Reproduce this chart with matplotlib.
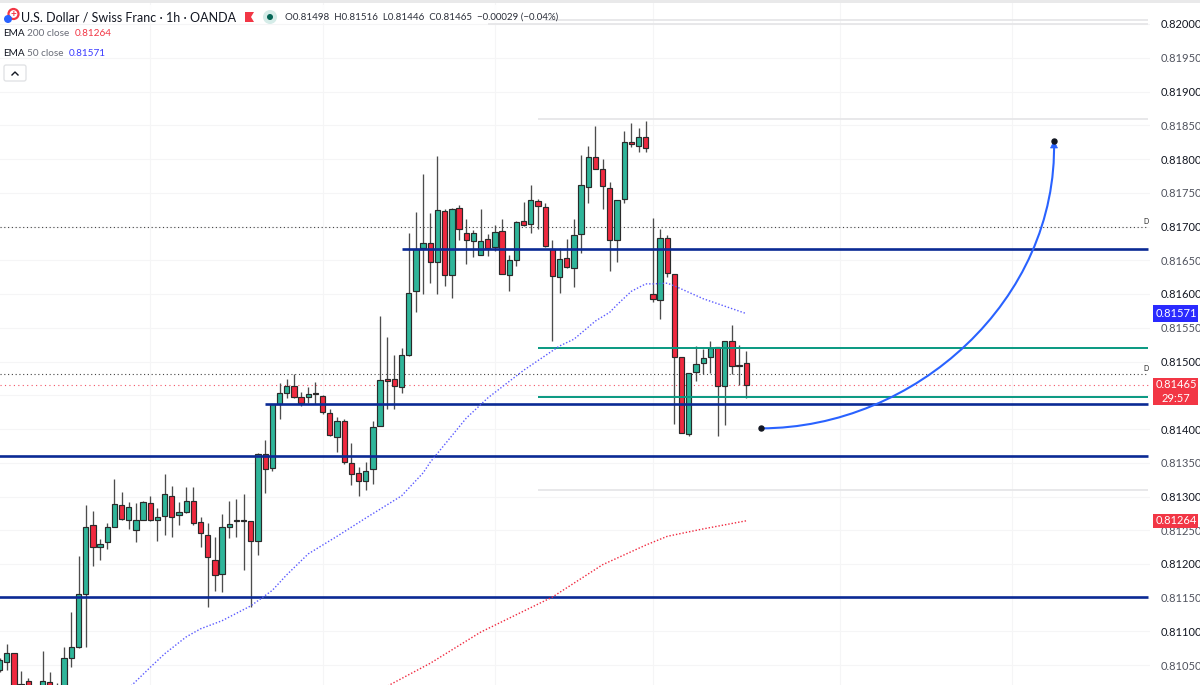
import matplotlib
matplotlib.use("Agg")
import matplotlib.pyplot as plt
from matplotlib.patches import Circle, FancyBboxPatch, PathPatch, Polygon, Rectangle
from matplotlib.path import Path
import numpy as np

plt.rcParams["font.family"] = ["Lato", "DejaVu Sans"]

# first visible bar sits half off the left edge, so numbering starts at -1
FIRST_BAR = -1

opens = [
    0.81043, 0.81055, 0.81068, 0.81022, 0.81027, 0.80999, 0.81006, 0.81025, 0.81013, 0.81006,
    0.81061, 0.81077, 0.81156, 0.81258, 0.81225, 0.81233, 0.81255, 0.81287, 0.81265, 0.81250,
    0.81265, 0.81290, 0.81265, 0.81271, 0.81301, 0.81273, 0.81277, 0.81293, 0.81262, 0.81243,
    0.81206, 0.81185, 0.81255, 0.81264, 0.81264, 0.81264, 0.81234, 0.81363, 0.81342, 0.81437,
    0.81453, 0.81464, 0.81447, 0.81447, 0.81453, 0.81449, 0.81424, 0.81388, 0.81412, 0.81350,
    0.81335, 0.81323, 0.81341, 0.81404, 0.81474, 0.81474, 0.81462, 0.81510, 0.81604, 0.81668,
    0.81676, 0.81647, 0.81723, 0.81628, 0.81727, 0.81690, 0.81679, 0.81658, 0.81681, 0.81670,
    0.81693, 0.81628, 0.81650, 0.81708, 0.81704, 0.81738, 0.81729, 0.81667, 0.81625, 0.81653,
    0.81639, 0.81689, 0.81759, 0.81803, 0.81785, 0.81757, 0.81680, 0.81741, 0.81825, 0.81819,
    0.81833, 0.81600, 0.81591, 0.81683, 0.81630, 0.81507, 0.81393, 0.81484, 0.81498, 0.81507,
    0.81521, 0.81464, 0.81530, 0.81495, 0.81498,
]
highs = [
    0.81061, 0.81081, 0.81068, 0.81041, 0.81031, 0.81016, 0.81071, 0.81040, 0.81024, 0.81077,
    0.81129, 0.81212, 0.81287, 0.81279, 0.81237, 0.81261, 0.81326, 0.81307, 0.81292, 0.81290,
    0.81293, 0.81301, 0.81283, 0.81333, 0.81316, 0.81292, 0.81314, 0.81314, 0.81270, 0.81261,
    0.81240, 0.81274, 0.81293, 0.81296, 0.81304, 0.81264, 0.81364, 0.81384, 0.81437, 0.81468,
    0.81474, 0.81481, 0.81455, 0.81462, 0.81470, 0.81450, 0.81430, 0.81418, 0.81415, 0.81379,
    0.81344, 0.81351, 0.81412, 0.81567, 0.81536, 0.81510, 0.81520, 0.81690, 0.81721, 0.81778,
    0.81720, 0.81804, 0.81726, 0.81727, 0.81732, 0.81711, 0.81695, 0.81726, 0.81689, 0.81702,
    0.81711, 0.81658, 0.81708, 0.81736, 0.81761, 0.81741, 0.81735, 0.81680, 0.81668, 0.81681,
    0.81711, 0.81806, 0.81819, 0.81849, 0.81800, 0.81766, 0.81739, 0.81841, 0.81853, 0.81846,
    0.81856, 0.81713, 0.81696, 0.81687, 0.81630, 0.81507, 0.81483, 0.81523, 0.81519, 0.81530,
    0.81521, 0.81530, 0.81554, 0.81524, 0.81516,
]
lows = [
    0.81040, 0.81043, 0.81010, 0.81010, 0.80999, 0.80991, 0.80999, 0.80999, 0.80991, 0.80999,
    0.81047, 0.81076, 0.81077, 0.81197, 0.81206, 0.81222, 0.81255, 0.81265, 0.81252, 0.81233,
    0.81265, 0.81264, 0.81234, 0.81243, 0.81240, 0.81258, 0.81276, 0.81258, 0.81225, 0.81136,
    0.81160, 0.81159, 0.81239, 0.81240, 0.81191, 0.81136, 0.81213, 0.81305, 0.81338, 0.81415,
    0.81446, 0.81446, 0.81434, 0.81439, 0.81437, 0.81422, 0.81390, 0.81366, 0.81348, 0.81317,
    0.81301, 0.81310, 0.81319, 0.81404, 0.81430, 0.81430, 0.81453, 0.81508, 0.81573, 0.81600,
    0.81616, 0.81600, 0.81612, 0.81594, 0.81680, 0.81644, 0.81655, 0.81658, 0.81656, 0.81664,
    0.81630, 0.81604, 0.81641, 0.81701, 0.81690, 0.81696, 0.81670, 0.81530, 0.81601, 0.81639,
    0.81610, 0.81661, 0.81735, 0.81785, 0.81726, 0.81634, 0.81647, 0.81735, 0.81818, 0.81810,
    0.81810, 0.81588, 0.81563, 0.81625, 0.81407, 0.81394, 0.81390, 0.81471, 0.81481, 0.81483,
    0.81390, 0.81406, 0.81481, 0.81465, 0.81446,
]
closes = [
    0.81058, 0.81068, 0.81013, 0.81021, 0.81006, 0.81013, 0.81027, 0.81006, 0.80999, 0.81061,
    0.81077, 0.81156, 0.81255, 0.81225, 0.81230, 0.81255, 0.81289, 0.81267, 0.81284, 0.81265,
    0.81292, 0.81265, 0.81270, 0.81304, 0.81270, 0.81277, 0.81293, 0.81261, 0.81246, 0.81210,
    0.81184, 0.81255, 0.81259, 0.81264, 0.81264, 0.81234, 0.81363, 0.81341, 0.81437, 0.81453,
    0.81464, 0.81447, 0.81439, 0.81452, 0.81452, 0.81425, 0.81391, 0.81412, 0.81351, 0.81333,
    0.81323, 0.81338, 0.81403, 0.81473, 0.81471, 0.81464, 0.81510, 0.81601, 0.81667, 0.81676,
    0.81647, 0.81724, 0.81628, 0.81726, 0.81696, 0.81680, 0.81690, 0.81679, 0.81668, 0.81692,
    0.81630, 0.81650, 0.81707, 0.81702, 0.81739, 0.81730, 0.81671, 0.81627, 0.81652, 0.81640,
    0.81687, 0.81761, 0.81803, 0.81785, 0.81760, 0.81680, 0.81739, 0.81825, 0.81822, 0.81833,
    0.81816, 0.81593, 0.81683, 0.81631, 0.81507, 0.81394, 0.81483, 0.81496, 0.81505, 0.81520,
    0.81464, 0.81530, 0.81493, 0.81493, 0.81465,
]

ema50_bars = [17, 20, 22, 25, 27, 30, 34, 37, 39, 42, 46, 50, 55, 58, 59, 64, 67, 72, 77, 79,
              82, 84, 85, 87, 89, 90, 92, 93, 97, 100, 103]
ema50_vals = [0.81016, 0.81047, 0.81067, 0.81092, 0.81104, 0.81116, 0.81138, 0.81161, 0.81184,
              0.81215, 0.81241, 0.81268, 0.81301, 0.81335, 0.81351, 0.81416, 0.81446, 0.81487,
              0.81523, 0.81533, 0.81560, 0.81573, 0.81584, 0.81604, 0.81615, 0.81615, 0.81616,
              0.81612, 0.81593, 0.81582, 0.81571]
ema200_bars = [53, 59, 66, 76, 83, 89, 92, 97, 103]
ema200_vals = [0.81019, 0.81053, 0.81099, 0.81151, 0.81199, 0.81228, 0.81241, 0.81252, 0.81264]

# (price, first bar) drawn out to the right edge of the pane
blue_levels = [(0.81667, 55), (0.81437, 36), (0.81360, -2), (0.81151, -2)]
green_levels = [(0.81520, 74), (0.81447, 74)]
grey_levels = [(0.81859, 74), (0.81310, 74), (0.82006, 67), (0.82000, 67)]
dotted_levels = [0.81699, 0.81481]
last_price = 0.81465

tick_prices = [0.82, 0.8195, 0.819, 0.8185, 0.818, 0.8175, 0.817, 0.8165, 0.816, 0.8155, 0.815,
               0.8145, 0.814, 0.8135, 0.813, 0.8125, 0.812, 0.8115, 0.811, 0.8105]
# 0.81450 is hidden behind the live price tag in the screenshot
tick_labels = ["0.82000", "0.81950", "0.81900", "0.81850", "0.81800", "0.81750", "0.81700",
               "0.81650", "0.81600", "0.81550", "0.81500", "", "0.81400", "0.81350", "0.81300",
               "0.81250", "0.81200", "0.81150", "0.81100", "0.81050"]
vgrid_bars = [20, 44, 68, 90, 116, 140]

GREEN = "#2fb59a"
RED = "#f0293f"
NAVY = "#0b2a94"
TEAL = "#089981"
ARROW = "#2962ff"


def bar_x(px):
    return (px - 6.7) / 7.18


def price_y(py):
    return 0.82 - (py - 24) / 67500


fig = plt.figure(figsize=(12, 6.85), dpi=100, facecolor="white")
ax = fig.add_axes([0, 0, 1150 / 1200, 1])
ax.set_xlim(bar_x(0), bar_x(1150))
ax.set_ylim(price_y(685), price_y(0))
for s in ax.spines.values():
    s.set_visible(False)
ax.set_xticks([])
ax.yaxis.tick_right()
ax.set_yticks(tick_prices)
ax.set_yticklabels(tick_labels, fontsize=8)
ax.tick_params(axis="y", length=0, pad=7.5)
for i, lab in enumerate(ax.get_yticklabels()):
    lab.set_color("#131722" if i % 2 == 0 else "#50535e")
for p in tick_prices:
    ax.axhline(p, color="#f5f5f6", lw=0.8, zorder=0)
for b in vgrid_bars:
    ax.axvline(b, color="#f5f5f6", lw=0.8, zorder=0)

# levels
right = bar_x(1148)
for p, start in grey_levels:
    ax.hlines(p, start, right, color="#e6e6e8", lw=1.3, zorder=1)
for p in dotted_levels:
    ax.hlines(p, bar_x(0), right, color="#444444", lw=0.8, ls=(0, (1, 2.4)), zorder=1)
    ax.text(bar_x(1146), p + 0.00009, "D", fontsize=5, ha="center", va="center", color="#222222")
ax.hlines(last_price, bar_x(0), right, color="#f0293f", lw=0.8, ls=(0, (1, 3)), alpha=0.8, zorder=1)

# candles
bars = np.arange(len(opens)) + FIRST_BAR
o = np.array(opens)
c = np.array(closes)
ax.vlines(bars, lows, highs, color="#4d4d4d", lw=0.95, zorder=3)
up = c >= o
colors = np.where(up, GREEN, RED)
bottoms = np.minimum(o, c)
heights = np.maximum(np.abs(c - o), 0.000015)
ax.bar(bars, heights, bottom=bottoms, width=0.74, color=colors, edgecolor="#2a2a2a", lw=0.85, zorder=4)

for p, start in blue_levels:
    ax.hlines(p, start, right, color=NAVY, lw=1.9, zorder=5)
for p, start in green_levels:
    ax.hlines(p, start, right, color=TEAL, lw=1.4, zorder=5)

# EMAs
ax.plot(ema50_bars, ema50_vals, color="#5a5aff", lw=1.0, ls=(0, (1, 1.4)), zorder=6)
ax.plot(ema200_bars, ema200_vals, color="#f0293f", lw=1.0, ls=(0, (1, 1.4)), zorder=6)

# curved arrow drawing
p0 = (bar_x(761), 0.81401)
c1 = (bar_x(915), 0.81401)
c2 = (bar_x(1058), 0.81591)
p3 = (bar_x(1054), 0.81827)
curve = Path([p0, c1, c2, p3], [Path.MOVETO, Path.CURVE4, Path.CURVE4, Path.CURVE4])
ax.add_patch(PathPatch(curve, fc="none", ec=ARROW, lw=1.5, zorder=7))
ax.add_patch(Polygon([(bar_x(1054), price_y(141)), (bar_x(1050.5), price_y(148)),
                      (bar_x(1057.5), price_y(148))], fc=ARROW, ec=ARROW, lw=0.5, zorder=8))
ax.plot([p0[0], p3[0]], [p0[1], p3[1]], ls="none", marker="o", ms=3.6, color="#131722", zorder=9)

# price tags on the scale
trans = ax.get_yaxis_transform()
tag_x = 1153 / 1150
tag_w = 45 / 1150


def price_tag(py_top, py_bottom, color, lines):
    ax.add_patch(Rectangle((tag_x, price_y(py_bottom)), tag_w, (py_bottom - py_top) / 67500,
                           transform=trans, fc=color, ec="none", clip_on=False, zorder=10))
    step = (py_bottom - py_top) / len(lines)
    for n, t in enumerate(lines):
        ax.text(1176 / 1150, price_y(py_top + step * (n + 0.5)), t, transform=trans, color="white",
                fontsize=8, ha="center", va="center", clip_on=False, zorder=11)


price_tag(305, 322, "#2a2aff", ["0.81571"])
price_tag(378, 405, "#f23645", ["0.81465", "29:57"])
price_tag(514, 528, "#f23645", ["0.81264"])

# header, drawn in pixel coordinates over the whole figure
over = fig.add_axes([0, 0, 1, 1], facecolor="none")
over.set_xlim(0, 1200)
over.set_ylim(685, 0)
over.axis("off")
over.add_patch(Rectangle((0, 0), 1200, 3, fc="#e9e9ea", ec="none"))
over.add_patch(Rectangle((0, 5), 545, 18, fc="white", ec="none", alpha=0.9))
over.add_patch(Circle((13.5, 14), 5, fc="white", ec="#f23645", lw=1.6))
over.text(13.5, 14, "+", color="#f23645", fontsize=7, fontweight="bold", ha="center", va="center")
over.add_patch(Circle((8, 19), 4, fc="#2962ff", ec="none"))
over.text(21, 17, "U.S. Dollar / Swiss Franc · 1h · OANDA", fontsize=9, color="#131722", va="center")
over.add_patch(Polygon([(245, 12), (254, 12), (251, 17), (254, 22), (245, 22)], fc="#f23645", ec="none"))
over.add_patch(Circle((270, 17), 7, fc="#d5ece8", ec="none"))
over.add_patch(Circle((270, 17), 3, fc="#056656", ec="none"))
over.text(285, 17, "O0.81498  H0.81516  L0.81446  C0.81465  −0.00029 (−0.04%)", fontsize=7,
          color="#2a2e39", va="center")

over.text(3, 33, "EMA", fontsize=7.2, color="#131722", va="center")
over.text(27, 33, "200 close", fontsize=7.2, color="#6a6d78", va="center")
over.text(75, 33, "0.81264", fontsize=7.2, color="#f23645", va="center")
over.text(3, 53, "EMA", fontsize=7.2, color="#131722", va="center")
over.text(27, 53, "50 close", fontsize=7.2, color="#6a6d78", va="center")
over.text(69, 53, "0.81571", fontsize=7.2, color="#3a3aff", va="center")
over.add_patch(FancyBboxPatch((4, 65), 22, 16, boxstyle="round,pad=0,rounding_size=2",
                              fc="white", ec="#dfe0e3", lw=0.9))
over.plot([12, 15, 18], [75, 72, 75], color="#131722", lw=1.0)

fig.savefig("out.png", dpi=100)
